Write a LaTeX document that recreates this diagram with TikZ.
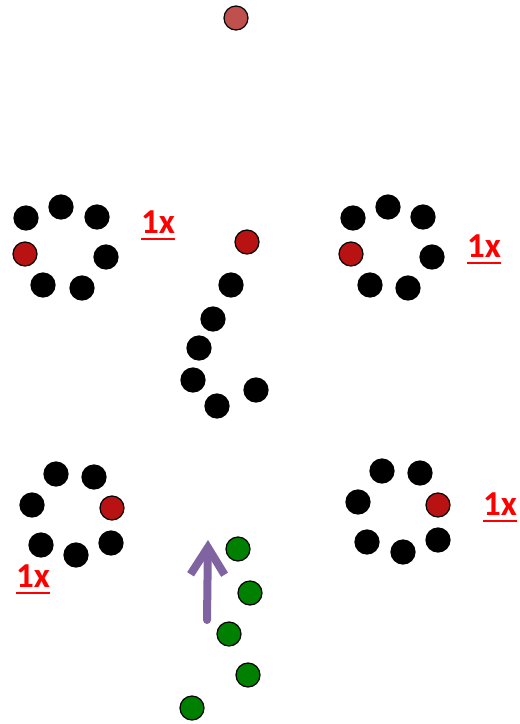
\documentclass[tikz,border=0pt]{standalone}
\usepackage{fontspec}
\setmainfont{Carlito}
\usetikzlibrary{arrows.meta}

\definecolor{fadedred}{RGB}{192,80,77}
\definecolor{markred}{RGB}{185,18,18}
\definecolor{walkgreen}{RGB}{0,128,0}
\definecolor{movepurple}{RGB}{128,100,162}
\definecolor{countred}{RGB}{255,0,0}

\begin{document}
\begin{tikzpicture}[x=1pt,y=-1pt,line cap=round,line join=round,
    blackdot/.style={circle,fill=black,draw=black,line width=1.2pt,minimum size=24pt,inner sep=0pt},
    reddot/.style={blackdot,fill=markred},
    greendot/.style={blackdot,fill=walkgreen},
    fadeddot/.style={blackdot,fill=fadedred},
    countlabel/.style={anchor=base west,inner sep=0pt,text=countred,font=\fontsize{35}{35}\selectfont\bfseries},
    countline/.style={countred,line width=2.2pt,line cap=butt}]
        \useasboundingbox (0,0) rectangle (520,724);

        % Punto superior
        \node[fadeddot] (top) at (236,18) {};

        % Grupo arriba izquierda
        \node[blackdot] (a1) at (26,218) {};
        \node[blackdot] (a2) at (61,207) {};
        \node[blackdot] (a3) at (97,217) {};
        \node[reddot]   (a4) at (25,254) {};
        \node[blackdot] (a5) at (106,257) {};
        \node[blackdot] (a6) at (43,285) {};
        \node[blackdot] (a7) at (82,288) {};
        \node[countlabel] (na) at (141,233) {1x};
        \draw[countline] ([yshift=-6pt]na.base west) -- ([yshift=-6pt]na.base east);

        % Grupo arriba derecha
        \node[blackdot] (b1) at (353,218) {};
        \node[blackdot] (b2) at (388,207) {};
        \node[blackdot] (b3) at (423,217) {};
        \node[reddot]   (b4) at (351,254) {};
        \node[blackdot] (b5) at (432,257) {};
        \node[blackdot] (b6) at (370,285) {};
        \node[blackdot] (b7) at (408,288) {};
        \node[countlabel] (nb) at (467,257) {1x};
        \draw[countline] ([yshift=-6pt]nb.base west) -- ([yshift=-6pt]nb.base east);

        % Cadena central
        \node[reddot]   (c1) at (247,242) {};
        \node[blackdot] (c2) at (231,285) {};
        \node[blackdot] (c3) at (213,319) {};
        \node[blackdot] (c4) at (199,348) {};
        \node[blackdot] (c5) at (193,380) {};
        \node[blackdot] (c6) at (217,406) {};
        \node[blackdot] (c7) at (256,390) {};

        % Grupo abajo izquierda
        \node[blackdot] (d1) at (56,474) {};
        \node[blackdot] (d2) at (94,477) {};
        \node[blackdot] (d3) at (32,505) {};
        \node[reddot]   (d4) at (112,508) {};
        \node[blackdot] (d5) at (41,545) {};
        \node[blackdot] (d6) at (76,555) {};
        \node[blackdot] (d7) at (111,543) {};
        \node[countlabel] (nd) at (16,587) {1x};
        \draw[countline] ([yshift=-6pt]nd.base west) -- ([yshift=-6pt]nd.base east);

        % Grupo abajo derecha
        \node[blackdot] (e1) at (382,471) {};
        \node[blackdot] (e2) at (420,473) {};
        \node[blackdot] (e3) at (358,502) {};
        \node[reddot]   (e4) at (438,505) {};
        \node[blackdot] (e5) at (367,542) {};
        \node[blackdot] (e6) at (403,552) {};
        \node[blackdot] (e7) at (438,540) {};
        \node[countlabel] (ne) at (483,515) {1x};
        \draw[countline] ([yshift=-6pt]ne.base west) -- ([yshift=-6pt]ne.base east);

        % Puntos verdes y flecha
        \node[greendot] (g1) at (238,549) {};
        \node[greendot] (g2) at (250,593) {};
        \node[greendot] (g3) at (229,634) {};
        \node[greendot] (g4) at (248,675) {};
        \node[greendot] (g5) at (192,708) {};
        \coordinate (foot) at (207,620);
        \coordinate (tip) at (208,540);
        \draw[movepurple,line width=8pt,-{Straight Barb[length=27pt,width=34pt]}] (foot) -- (tip);

    \end{tikzpicture}
\end{document}
